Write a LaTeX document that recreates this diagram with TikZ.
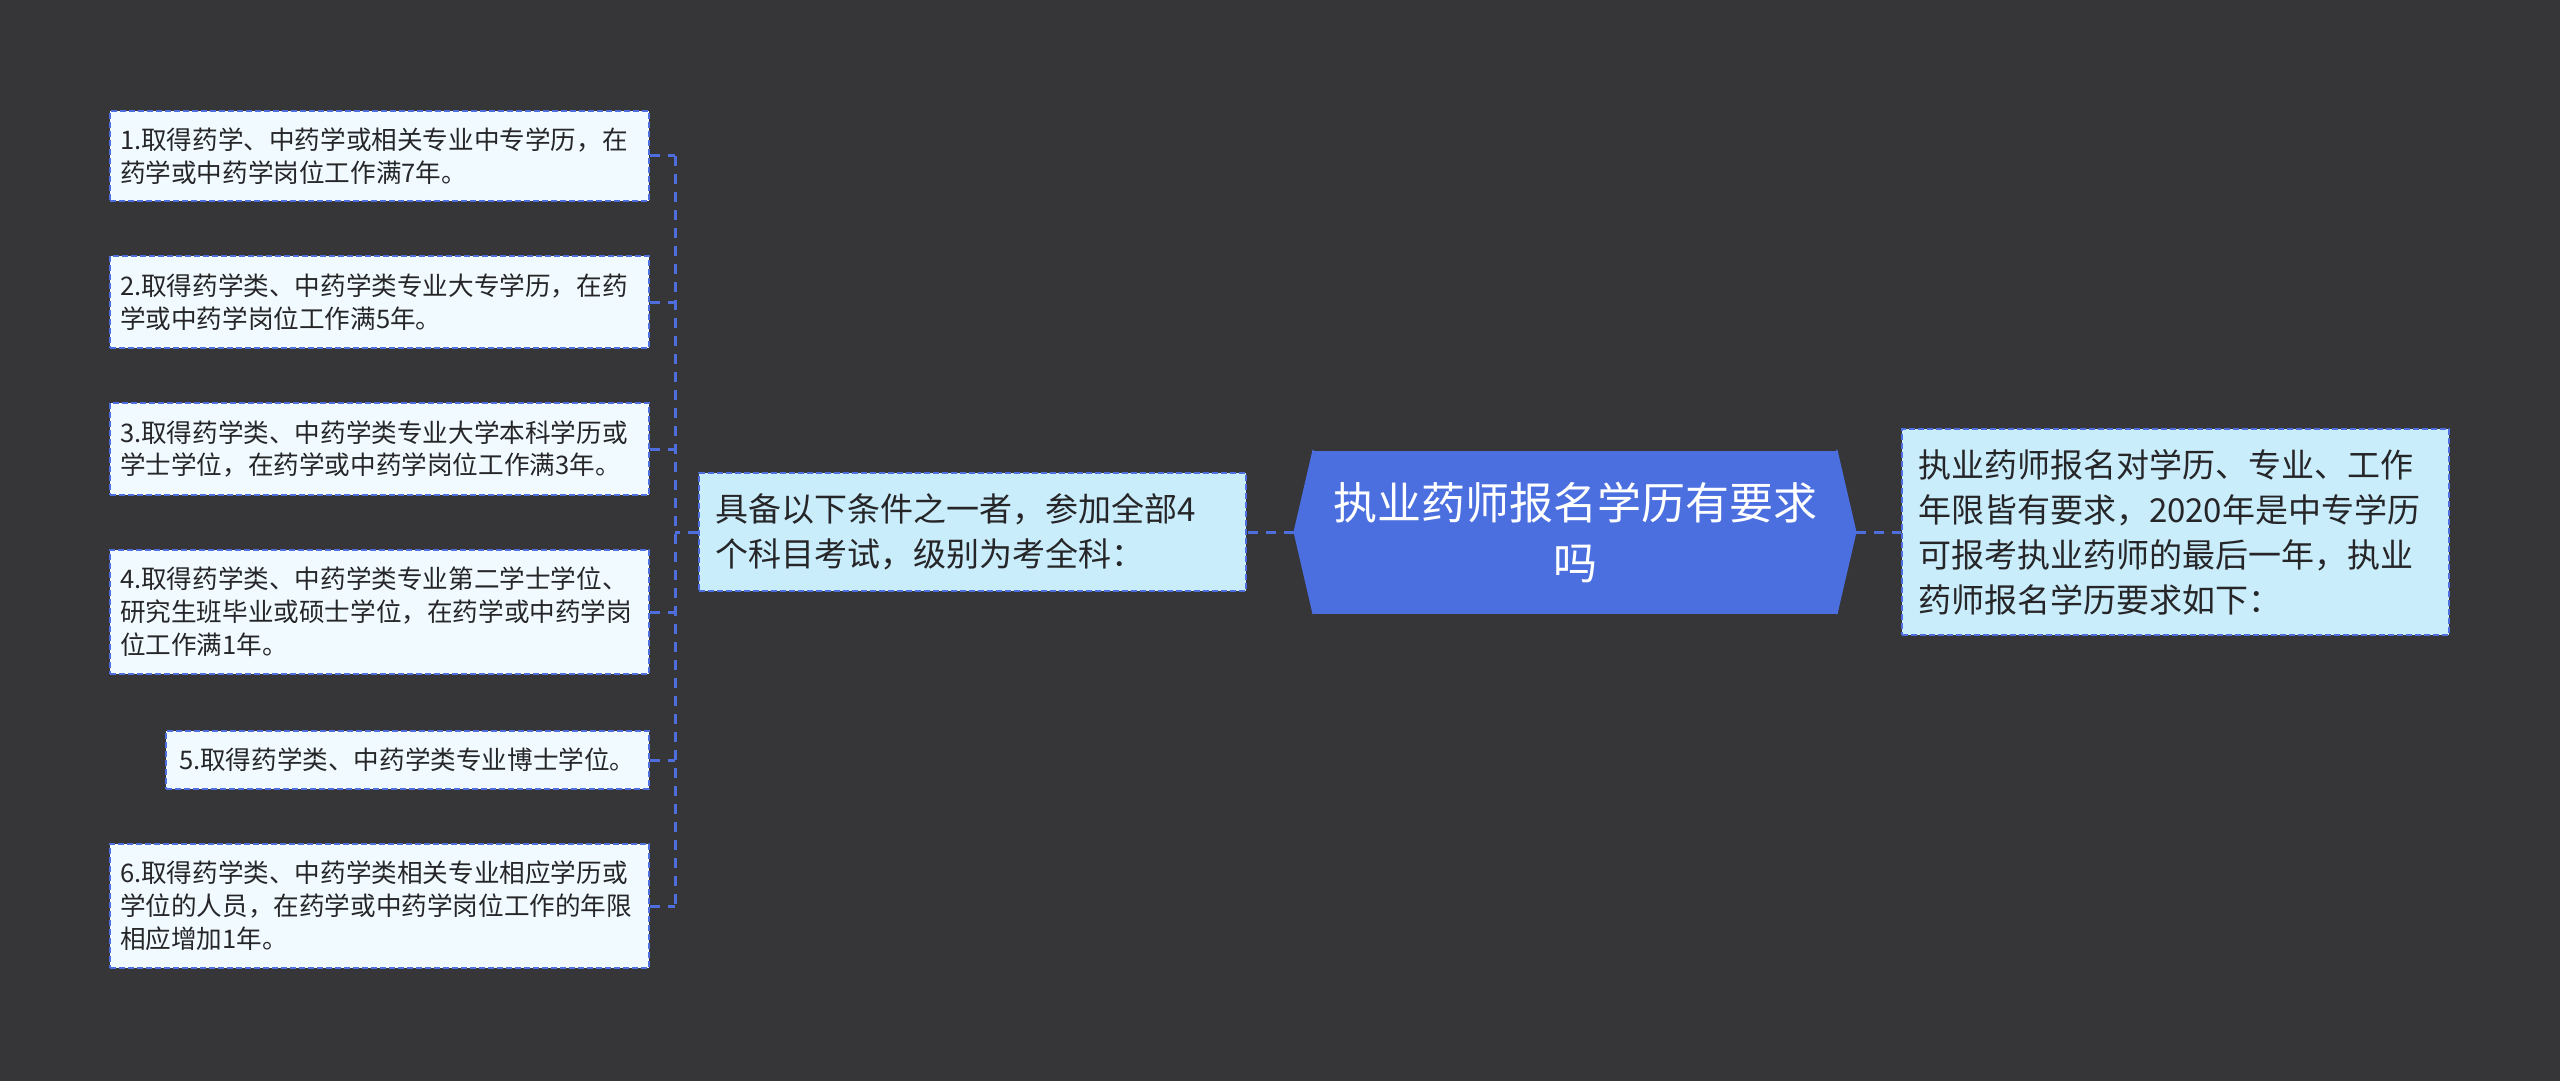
\documentclass[tikz,border=0pt]{standalone}
\usepackage{fontspec}
\setmainfont{Noto Sans CJK SC}
\usetikzlibrary{calc}

\definecolor{bgdark}{RGB}{54,53,56}
\definecolor{rootblue}{RGB}{76,111,224}
\definecolor{linkblue}{RGB}{78,110,222}
\definecolor{midcyan}{RGB}{202,237,252}
\definecolor{leafwhite}{RGB}{241,251,255}
\definecolor{txtdark}{RGB}{38,38,40}

\begin{document}
\begin{tikzpicture}[
    x=0.5pt, y=-0.5pt,
    link/.style={draw=linkblue, line width=1.5pt, dash pattern=on 5pt off 4pt},
    root/.style={rectangle, fill=rootblue, text=white, inner sep=0pt, minimum width=262.5pt, minimum height=81.5pt, align=center, font=\fontsize{22}{30}\selectfont},
    sub/.style={rectangle, draw=linkblue, line width=1pt, dash pattern=on 3pt off 1.5pt, fill=midcyan, text=txtdark, inner xsep=8pt, inner ysep=0pt, text width=257.5pt, align=left, font=\fontsize{16.5}{22.5}\selectfont},
    leaf/.style={rectangle, draw=linkblue, line width=1pt, dash pattern=on 3pt off 1.5pt, fill=leafwhite, text=txtdark, inner xsep=5pt, inner ysep=0pt, text width=259.5pt, align=left, anchor=east, font=\fontsize{12.8}{16.5}\selectfont}
  ]
    % background and page size
    \fill[bgdark] (0,0) rectangle (2560,1081);
    \useasboundingbox (0,0) rectangle (2560,1081);

    % centre topic
    \node[root] (root) at (1575,532) {执业药师报名学历有要求\\吗};
    \coordinate (rootL) at ($(root.west)+(-18,0)$);
    \coordinate (rootR) at ($(root.east)+(18,0)$);
    \filldraw[rootblue, line width=0.6pt, line join=round] ($(root.north west)+(1,0)$) -- (rootL) -- ($(root.south west)+(1,0)$) -- cycle;
    \filldraw[rootblue, line width=0.6pt, line join=round] ($(root.north east)+(-1,0)$) -- (rootR) -- ($(root.south east)+(-1,0)$) -- cycle;

    % right branch
    \node[sub, minimum height=103pt] (info) at (2175.5,532) {执业药师报名对学历、专业、工作\\年限皆有要求，2020年是中专学历\\可报考执业药师的最后一年，执业\\药师报名学历要求如下：};

    % left branch
    \node[sub, minimum height=59pt] (cond) at (972.5,532) {具备以下条件之一者，参加全部4\\个科目考试，级别为考全科：};

    % conditions
    \node[leaf, minimum height=45pt] (c1) at (650,156) {1.取得药学、中药学或相关专业中专学历，在\\药学或中药学岗位工作满7年。};
    \node[leaf, minimum height=46pt] (c2) at (650,302) {2.取得药学类、中药学类专业大专学历，在药\\学或中药学岗位工作满5年。};
    \node[leaf, minimum height=46pt] (c3) at (650,449) {3.取得药学类、中药学类专业大学本科学历或\\学士学位，在药学或中药学岗位工作满3年。};
    \node[leaf, minimum height=62pt] (c4) at (650,612) {4.取得药学类、中药学类专业第二学士学位、\\研究生班毕业或硕士学位，在药学或中药学岗\\位工作满1年。};
    \node[leaf, minimum height=29pt, text width=228.5pt, inner xsep=6.5pt] (c5) at (650,760) {5.取得药学类、中药学类专业博士学位。};
    \node[leaf, minimum height=62pt] (c6) at (650,906) {6.取得药学类、中药学类相关专业相应学历或\\学位的人员，在药学或中药学岗位工作的年限\\相应增加1年。};

    % connectors
    \coordinate (bus) at (675,532);
    \draw[link] (rootL) -- (cond.east);
    \draw[link] (rootR) -- (info.west);
    \draw[link] (cond.west) -- (bus);
    \draw[link] (c1.east -| bus) -- (c6.east -| bus);
    \foreach \c in {c1,c2,c3,c4,c5,c6}
      \draw[link] (\c.east) -- (\c.east -| bus);
  \end{tikzpicture}
\end{document}
